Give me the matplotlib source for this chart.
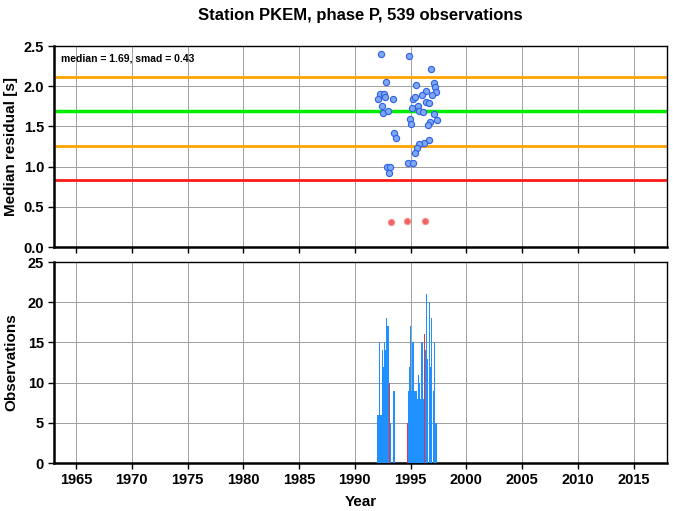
import numpy as np
import matplotlib
matplotlib.use("Agg")
import matplotlib.pyplot as plt

plt.rcParams['font.family'] = ['Liberation Sans', 'DejaVu Sans']
plt.rcParams['font.weight'] = 'bold'

station = "PKEM"
phase = "P"
n_obs = 539
median = 1.69
smad = 0.43

# per-month median residuals (decimal year, seconds)
good_years = [1992.35, 1994.87, 1996.87, 1992.83, 1995.52, 1997.08, 1997.20, 1997.32,
              1996.39, 1996.00, 1996.96, 1992.26, 1992.62, 1992.08, 1992.74, 1993.43,
              1995.25, 1995.43, 1996.39, 1996.63, 1992.40, 1995.10, 1995.67, 1992.49,
              1993.01, 1995.79, 1996.12, 1997.14, 1997.35, 1994.92, 1995.04, 1996.78,
              1996.54, 1993.48, 1993.70, 1996.69, 1996.21, 1995.76, 1995.61, 1995.40,
              1994.78, 1995.19, 1992.89, 1993.16, 1993.07]
good_resid = [2.40, 2.38, 2.22, 2.05, 2.02, 2.04, 1.99, 1.93,
              1.94, 1.89, 1.89, 1.90, 1.90, 1.84, 1.86, 1.84,
              1.84, 1.86, 1.80, 1.79, 1.75, 1.73, 1.76, 1.67,
              1.69, 1.69, 1.68, 1.65, 1.58, 1.59, 1.53, 1.55,
              1.52, 1.42, 1.36, 1.33, 1.29, 1.28, 1.23, 1.17,
              1.04, 1.04, 1.00, 0.99, 0.92]
bad_years = [1993.25, 1994.69, 1996.27]
bad_resid = [0.31, 0.32, 0.32]

# observations per month
months = ["1992-01", "1992-02", "1992-03", "1992-04", "1992-05", "1992-06", "1992-07",
          "1992-08", "1992-09", "1992-10", "1992-11", "1992-12", "1993-01", "1993-02",
          "1993-03", "1993-06", "1993-07",
          "1994-09", "1994-10", "1994-11", "1994-12", "1995-01", "1995-02", "1995-03",
          "1995-04", "1995-05", "1995-06", "1995-07", "1995-08", "1995-09", "1995-10",
          "1995-11", "1995-12", "1996-01", "1996-02", "1996-03", "1996-04", "1996-05",
          "1996-06", "1996-07", "1996-09", "1996-10", "1996-11", "1997-01", "1997-02",
          "1997-03", "1997-04"]
counts = [6, 6, 15, 6, 6, 14, 12, 15, 13, 14, 18, 17, 17, 10, 5, 9, 9,
          5, 9, 12, 17, 16, 9, 15, 15, 9, 9, 9, 8, 11, 10,
          8, 15, 15, 8, 8, 16, 14, 21, 13, 20, 12, 18, 9, 15,
          5, 5]
red_months = ["1993-02", "1994-09", "1996-04"]


def month_to_year(m) :
    y, mo = m.split("-")
    return int(y) + (int(mo) - 1) / 12.0


fig = plt.figure(figsize=(6.73, 5.11), dpi=100)
ax1 = fig.add_axes([0.080, 0.5166, 0.911, 0.3933])
ax2 = fig.add_axes([0.080, 0.0939, 0.911, 0.3933])

for ax in (ax1, ax2) :
    ax.set_xlim(1963, 2018)
    ax.set_xticks(range(1965, 2020, 5))
    ax.grid(True, color='#a0a0a0', linewidth=0.7)
    ax.set_axisbelow(True)
    ax.tick_params(direction='out', length=4, width=1, labelsize=10.5, colors='black', pad=3)
    for s in ('left', 'bottom') :
        ax.spines[s].set_linewidth(1.8)
    for s in ('top', 'right') :
        ax.spines[s].set_linewidth(1.0)

# residual panel
ax1.set_ylim(0, 2.5)
ax1.set_yticks(np.arange(0, 2.51, 0.5))
ax1.set_yticklabels(['%.1f' % v for v in np.arange(0, 2.51, 0.5)])
ax1.set_xticklabels([])
ax1.axhline(median + smad, color='#ffa500', linewidth=2)
ax1.axhline(median, color='#00ee00', linewidth=2.5)
ax1.axhline(median - smad, color='#ffa500', linewidth=2)
ax1.axhline(median - 2 * smad, color='#ff1a1a', linewidth=2)
ax1.scatter(good_years, good_resid, s=20, facecolor='#7ca8f4', edgecolor='#2f5fe6',
            linewidth=0.8, zorder=5)
ax1.scatter(bad_years, bad_resid, s=20, facecolor='#f26060', edgecolor='#f89090',
            linewidth=0.8, zorder=5)
ax1.text(0.012, 0.965, 'median = %.2f, smad = %.2f' % (median, smad), transform=ax1.transAxes,
         fontsize=7.5, fontweight='bold', va='top', ha='left')
ax1.set_ylabel('Median residual [s]', fontsize=11, fontweight='bold', labelpad=4)
ax1.set_title('Station %s, phase %s, %d observations' % (station, phase, n_obs),
              fontsize=12, fontweight='bold', pad=19)

# observation counts panel
bar_x = [month_to_year(m) for m in months]
bar_c = ['#e8333a' if m in red_months else '#1e90ff' for m in months]
ax2.bar(bar_x, counts, width=1 / 12.0, align='edge', color=bar_c, linewidth=0, zorder=3)
ax2.set_ylim(0, 25)
ax2.set_yticks(range(0, 26, 5))
ax2.set_ylabel('Observations', fontsize=11, fontweight='bold', labelpad=7)
ax2.set_xlabel('Year', fontsize=11, fontweight='bold', labelpad=6)

fig.savefig('out.png', dpi=100)
